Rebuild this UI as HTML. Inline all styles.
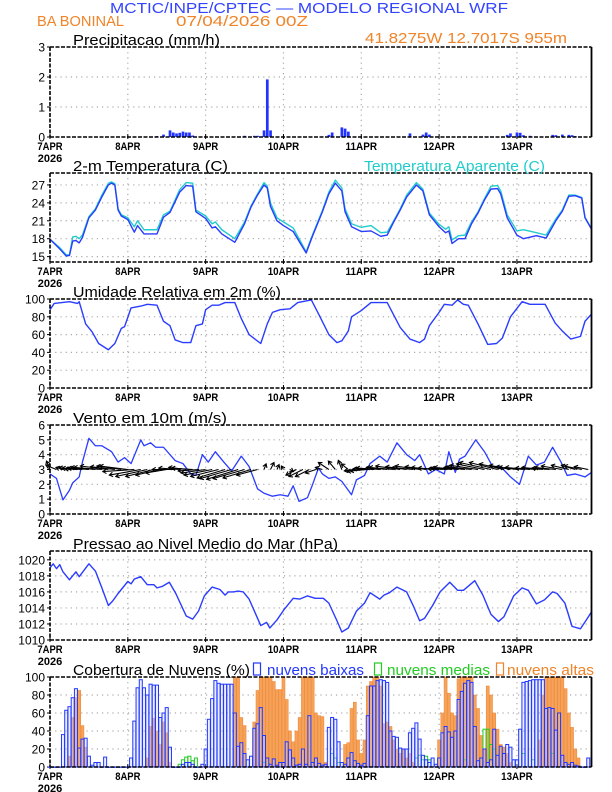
<!DOCTYPE html>
<html><head><meta charset="utf-8">
<style>
html,body{margin:0;padding:0;background:#fff;}
svg{display:block;}
text{font-family:"Liberation Sans",sans-serif;}
</style></head>
<body>
<svg id="chart" width="612" height="792" viewBox="0 0 612 792" xmlns="http://www.w3.org/2000/svg">
<rect x="0" y="0" width="612" height="792" fill="#fff"/>
<text x="110" y="13" font-size="15" fill="#3344ff" textLength="398" lengthAdjust="spacingAndGlyphs">MCTIC/INPE/CPTEC — MODELO REGIONAL WRF</text>
<text x="37" y="26" font-size="15" fill="#f08428" textLength="87" lengthAdjust="spacingAndGlyphs">BA BONINAL</text>
<text x="176" y="26" font-size="15" fill="#f08428" textLength="132" lengthAdjust="spacingAndGlyphs">07/04/2026 00Z</text>
<text x="365" y="43" font-size="15" fill="#f08428" textLength="202" lengthAdjust="spacingAndGlyphs">41.8275W 12.7017S 955m</text>
<g id="plots"></g>
</svg>
<script>
// ---------- DATA ----------
const dayLabels = ["7APR","8APR","9APR","10APR","11APR","12APR","13APR"];
const yearLabel = "2026";

const precipHours = [28,33,35,37,38,39,40,41,42,43,44,60,63,64,66,67,68,86,87,90,91,92,111,115,116,117,135,141,142,144,145,146,148,155,156,158,160,161,162];
const precipValues = [0.01,0.03,0.08,0.22,0.15,0.12,0.14,0.18,0.15,0.15,0.05,0.04,0.04,0.04,0.22,1.92,0.22,0.07,0.15,0.32,0.28,0.18,0.12,0.08,0.15,0.08,0.01,0.07,0.12,0.15,0.14,0.06,0.04,0.07,0.06,0.08,0.07,0.06,0.03];
const precipTicks = [0,1,2,3];

const tempHours = [0,3,5,6,7,8,9,10,12,14,16,18,19,20,21,22,24,26,27,29,33,35,37,40,42,44,45,48,50,51,53,57,60,62,64,66,67,68,70,72,75,78,79,81,84,86,88,90,91,93,96,99,102,104,106,108,110,113,115,117,120,122,123,124,126,128,130,132,134,136,138,139,141,144,146,150,153,156,158,160,162,164,165,167];
const tempValues = [17.9,16.3,15.1,15.2,17.6,17.7,17.3,18.2,21.5,22.8,25.0,27.0,27.3,27.0,22.8,21.8,21.2,19.1,20.2,18.8,18.8,21.6,22.4,25.8,26.9,26.8,22.5,21.4,19.8,20.0,18.8,17.4,20.5,23.3,25.3,27.0,26.5,23.4,21.0,20.2,19.2,16.5,15.6,18.5,22.5,25.5,27.3,26.0,22.5,20.0,19.2,19.3,18.4,18.6,20.8,22.8,25.0,27.0,26.0,22.0,20.0,19.0,19.3,17.2,18.0,18.0,20.5,22.3,24.5,26.3,26.4,25.5,21.5,18.6,18.0,18.5,18.1,21.0,22.6,25.1,25.2,24.8,21.5,19.6];
const appTempValues = [17.9,16.5,15.3,15.3,18.3,18.4,18.0,18.6,21.7,23.0,25.3,27.3,27.5,27.2,23.0,22.0,21.5,20.0,21.0,19.5,19.5,22.0,22.6,26.2,27.4,27.3,22.8,21.8,20.5,20.8,19.5,18.0,20.8,23.5,25.5,27.4,26.8,24.0,21.5,20.8,19.8,16.8,15.8,18.7,22.7,25.8,27.8,26.5,23.0,20.5,19.9,20.2,19.0,19.1,21.0,23.0,25.3,27.4,26.3,22.3,20.4,19.6,20.0,17.8,18.5,18.6,20.8,22.5,24.7,26.8,26.9,26.0,22.0,19.3,19.5,19.0,18.6,21.3,22.8,25.3,25.3,24.9,21.6,19.7];
const tempTicks = [15,18,21,24,27];

const rhHours = [0,1.3,6,8.5,9,11,13,15,18,20,22,23,25,28,30,33,35,37,38.6,41,43.4,45,47,48,50,52,54,57,59,61.4,65,67,68.6,71,74,76.4,80.6,83,86,88.5,90,92,93,96,99,104,108,111,114,115.5,117,120,121.6,124,125.7,127.5,129,132,135,137.7,139.5,142,145.6,148,152.7,155.8,158,160.6,163.6,165,167];
const rhValues = [88,95,97,95,97,72,63,50,43,50,67,69,90,92,94,93,75,70,54,51,51,70,72,88,93,93,96,96,78,60,50,72,85,88,89,96,99,82,60,51,53,64,80,87,96,96,68,55,51,55,70,85,94,93,99,94,93,72,49,50,56,80,97,94,94,73,64,55,58,75,83];
const rhTicks = [0,20,40,60,80,100];

const windHours = [0,2,4,6,7,9,10,12,14,16,19,21,23,25,28,29,31,32.6,35,38.6,41,43.4,45,47,48.8,51,53.6,56,59,61.4,64,66,68.6,71,73.4,75,76.8,79.4,81,82.8,84,86,88,90,93,94.5,97,98.7,101.7,104,107,110,112.5,114,116.7,119,121.6,123,125,126.3,128,131.3,134,136.5,139,142,144.8,147.5,150,152.5,155,157.6,159.5,162,165,167];
const windSpeed = [2.7,2.4,0.95,1.6,2.1,2.5,3.5,5.1,4.6,4.6,4.2,3.5,3.8,3.4,5.0,4.6,4.8,4.5,4.5,3.6,3.4,2.7,2.6,4.0,3.5,4.2,3.5,2.9,3.9,3.2,1.7,1.4,1.2,1.3,1.2,1.9,0.85,1.1,2.0,3.1,2.7,2.4,2.5,2.2,1.3,2.3,2.6,3.4,3.9,3.5,4.8,4.0,3.6,4.0,2.7,3.0,2.7,4.2,2.8,3.7,3.9,5.0,4.2,3.2,3.2,2.5,2.0,3.9,3.3,3.5,4.5,3.5,2.6,2.7,2.5,2.8];
const windTicks = [0,1,2,3,4,5,6];
// wind vectors every 2 hours (u east, v north, m/s)
const windU = [-0.5,-1.5,-1,-1.5,-2,-2.5,-3,-3.5,-4,-4,-3.5,-3.5,
 -4,-4.5,-4.5,-4.5,-4,-3.5,-3,-3,-3,-2.5,-3,-3,
 -3.5,-4,-4,-4,-4.5,-4.5,-4.5,-4,-3,0.3,0.5,0.3,
 -0.3,0.5,-1.5,-2,-2,-1.5,-1,-1.5,-1,-0.5,-1,-1.5,
 -2,-2.5,-3,-3.5,-3,-3.5,-3.5,-3,-3,-3.5,-3,-3,
 -3,-2.5,-3,-3.5,-3,-3.5,-4,-4,-4.5,-4,-3.5,-3,
 -3,-3.5,-3.5,-3,-3,-2.5,-3,-3,-2.5,-2,-2.5,-2];
const windV = [1.2,0.6,0.3,0.3,0.2,0.1,0.2,0.3,0.3,0.5,0.4,0.5,
 0.5,-0.3,-0.8,-1,-1,-0.8,-0.5,0,0.2,0.3,0.2,-0.2,
 -0.5,-0.8,-1,-1.2,-1.3,-1.4,-1.3,-1.2,-0.8,0.8,1,0.7,
 0.5,-0.3,-0.8,-1,-1,-0.5,0.3,1,1.2,1.3,0.8,-0.2,
 -0.3,-0.2,0.1,0.2,0.3,0.3,0.5,0.4,0.3,0.5,0.4,0.3,
 0.2,0.1,0.2,0.3,0.3,0.4,0.6,0.8,1,1,0.8,0.6,
 0.4,0.3,0.3,0.2,0.3,0.2,0.3,0.5,0.6,0.6,0.5,0.4];

const presHours = [0,1,2,3,4,6,8,9,12,14,16,18,19.4,21,24,25,26,28,30,32,33,34.7,36.8,38.8,42,44,45.8,47.6,50,52.4,54,55,56.6,58,59.6,61.4,65,66.8,67.8,70,72.2,75,77,79.4,81.8,84.3,86,88.5,90,92,94.5,97,98.7,101.7,103,104.7,107,110,112,114,115.5,118,120.3,123.3,125.7,127.5,131,133.5,136,138.3,140,143,145.6,147.5,150,152.5,155,156.4,158.8,161,163.6,165.4,167];
const presValues = [1019.0,1019.5,1018.9,1019.4,1018.5,1017.5,1018.5,1017.9,1019.5,1018.6,1016.5,1014.3,1014.9,1015.8,1017.3,1017.0,1017.6,1017.9,1016.9,1016.9,1016.5,1016.7,1017.2,1015.8,1013.0,1012.6,1013.6,1015.5,1016.6,1016.3,1015.6,1016.0,1016.0,1016.1,1016.0,1015.1,1011.8,1012.2,1011.5,1012.5,1013.8,1015.2,1015.1,1015.5,1015.2,1015.2,1014.6,1012.4,1011.0,1011.5,1013.6,1014.6,1015.9,1015.1,1015.6,1015.9,1016.6,1016.0,1014.3,1012.4,1012.7,1014.3,1016.0,1017.2,1016.2,1016.2,1017.4,1015.6,1013.2,1012.3,1012.9,1015.5,1016.5,1016.2,1014.5,1015.0,1016.0,1015.8,1014.6,1011.7,1011.4,1012.5,1013.5];
const presTicks = [1010,1012,1014,1016,1018,1020];

// cloud cover, hourly from hour 0
const cloudLow = [0,0,0,0,36,63,67,77,87,21,31,32,12,2,5,5,0,11,0,0,0,0,0,0,
 0,10,51,88,97,88,80,92,91,91,55,60,66,22,0,0,0,3,5,5,3,0,0,3,
 20,53,76,96,93,92,92,92,92,60,23,27,15,8,12,43,48,66,35,10,3,9,2,5,
 5,28,19,10,2,3,20,3,57,5,10,4,2,3,44,55,53,28,5,3,10,16,7,4,
 2,4,57,90,90,96,97,96,94,40,34,33,21,20,20,38,43,49,31,13,8,5,10,3,
 10,38,45,39,33,40,75,84,93,96,94,45,7,10,20,5,8,42,13,23,15,25,22,8,
 8,42,94,95,96,97,97,97,97,65,66,65,41,60,13,5,3,5,2,1,0,0,10];
const cloudHigh = [0,0,0,0,0,0,12,55,77,85,46,22,0,0,0,0,0,0,0,0,0,0,0,0,
 0,0,0,0,0,0,10,45,54,40,25,50,38,5,0,0,0,0,0,0,0,0,0,0,
 0,0,0,0,0,0,0,0,0,100,100,55,46,0,0,50,85,100,100,100,100,95,86,86,
 100,75,40,28,40,55,100,100,100,100,60,57,56,5,0,0,0,0,0,25,27,65,72,30,
 15,30,90,95,100,100,90,48,50,45,30,20,15,20,10,15,5,0,0,0,0,0,0,0,
 30,60,100,82,60,57,98,100,100,100,100,80,65,35,20,90,80,60,42,25,22,15,5,0,
 0,0,0,0,0,0,0,30,80,100,100,100,100,100,100,87,60,44,20,10,0,0,0];
const cloudMedHours = [40,41,42,43,44,45,66,87,88,89,113,114,115,116,117,128,134,135,136,137,146,149,155];
const cloudMedValues = [3,8,11,12,7,10,5,15,10,5,10,13,8,12,8,8,42,42,25,20,15,8,15];
const cloudTicks = [0,20,40,60,80,100];

// ---------- DRAWING ----------
const NS = "http://www.w3.org/2000/svg";
const root = document.getElementById("plots");
const X0 = 50, XR = 591.5, HMAX = 167;
function xs(h){ return X0 + h*(XR-X0)/HMAX; }
function mk(tag, attrs, parent){
  const e = document.createElementNS(NS, tag);
  for (const k in attrs) e.setAttribute(k, attrs[k]);
  (parent||root).appendChild(e);
  return e;
}
function panel(name, top, bottom, ymin, ymax, ticks, titleText, titleLen){
  const g = mk("g", {});
  
  
  const ys = v => bottom - (v-ymin)*(bottom-top)/(ymax-ymin);
  // grid
  for (let d=1; d<7; d++){
    const gl = mk("line",{x1:xs(d*24),x2:xs(d*24),y1:top,y2:bottom,stroke:"#aaa","stroke-width":1.2,"stroke-dasharray":"1.2,4"},g);
    
    
  }
  ticks.forEach(t=>{
    const y = ys(t);
    if (y>top+1 && y<bottom-1){
      const gl = mk("line",{x1:X0,x2:XR,y1:y,y2:y,stroke:"#aaa","stroke-width":1.2,"stroke-dasharray":"1.2,4"},g);
      
      
    }
    const tl = mk("text",{x:X0-5,y:y+4.5,"font-size":12,"text-anchor":"end",fill:"#000"},g);
    tl.textContent = String(t);
    
    
    const tk = mk("line",{x1:X0-3,x2:X0,y1:y,y2:y,stroke:"#000","stroke-width":1},g);
    
    
  });
  // x labels
  dayLabels.forEach((lab,d)=>{
    const t = mk("text",{x:xs(d*24),y:bottom+13,"font-size":11,"text-anchor":"middle",fill:"#000","font-weight":"bold",textLength:lab.length*6.3,lengthAdjust:"spacingAndGlyphs"},g);
    t.textContent = lab;
    
    
    const tk = mk("line",{x1:xs(d*24),x2:xs(d*24),y1:bottom-3,y2:bottom+2,stroke:"#000","stroke-width":1},g);
    
    
  });
  const yr = mk("text",{x:xs(0),y:bottom+25,"font-size":11,"text-anchor":"middle",fill:"#000","font-weight":"bold"},g);
  yr.textContent = yearLabel;
  
  
  const tt = mk("text",{x:73,y:top-2,"font-size":14.5,fill:"#000",textLength:titleLen,lengthAdjust:"spacingAndGlyphs"},g);
  tt.textContent = titleText;
  
  
  const plot = mk("g",{},g);
  
  
  // frame after
  const fr = mk("g",{},g);
  
  
  mk("line",{x1:X0,x2:XR,y1:top,y2:top,stroke:"#000","stroke-width":1.6,"stroke-dasharray":"4,1.5"},fr);
  mk("line",{x1:X0,x2:XR,y1:bottom,y2:bottom,stroke:"#000","stroke-width":1.6,"stroke-dasharray":"4,1.5"},fr);
  mk("line",{x1:X0,x2:X0,y1:top,y2:bottom,stroke:"#000","stroke-width":1.6,"stroke-dasharray":"4,1.5"},fr);
  mk("line",{x1:XR,x2:XR,y1:top,y2:bottom,stroke:"#000","stroke-width":1.8},fr);
  return {ys, plot, g};
}
function line(p, hours, vals, color, name, w){
  let d = "";
  hours.forEach((h,i)=>{ d += (i?"L":"M") + xs(h).toFixed(2) + "," + p.ys(vals[i]).toFixed(2); });
  const e = mk("path",{d:d,fill:"none",stroke:color,"stroke-width":w||1.4,"stroke-linejoin":"round"},p.plot);
  
  
}

// Precip
const p1 = panel("precipitation", 47, 137, 0, 3, precipTicks, "Precipitacao (mm/h)", 147);
precipHours.forEach((h,i)=>{
  const y = p1.ys(precipValues[i]);
  const b = mk("rect",{x:xs(h)-1.3,y:y,width:2.7,height:Math.max(0.5,137-y),fill:"#2233ff"},p1.plot);
  
  
});

// Temp
const p2 = panel("temperature", 173, 262, 14.1, 29.0, tempTicks, "2-m Temperatura (C)", 155);
line(p2, tempHours, appTempValues, "#22cccc", "apparent-temperature-line", 1.4);
line(p2, tempHours, tempValues, "#2a3cff", "temperature-line", 1.4);
const at = mk("text",{x:364,y:171,"font-size":14.5,fill:"#22cccc",textLength:181,lengthAdjust:"spacingAndGlyphs"},p2.g);
at.textContent = "Temperatura Aparente (C)";



// RH
const p3 = panel("humidity", 299, 388, 0, 100, rhTicks, "Umidade Relativa em 2m (%)", 208);
line(p3, rhHours, rhValues, "#2a3cff", "humidity-line", 1.4);

// Wind
const p4 = panel("wind", 425, 514, 0, 6, windTicks, "Vento em 10m (m/s)", 154);
line(p4, windHours, windSpeed, "#2a3cff", "wind-speed-line", 1.3);
const yBase = p4.ys(3);
windU.forEach((u,i)=>{
  const v = windV[i];
  const x1 = xs(i*2), y1 = yBase;
  const S = 7;
  const x2 = x1 + u*S, y2 = y1 - v*S;
  const len = Math.hypot(x2-x1, y2-y1) || 1;
  const ux = (x2-x1)/len, uy = (y2-y1)/len;
  const hx1 = x2 - ux*3.5 - uy*2.2, hy1 = y2 - uy*3.5 + ux*2.2;
  const hx2 = x2 - ux*3.5 + uy*2.2, hy2 = y2 - uy*3.5 - ux*2.2;
  const a = mk("path",{d:`M${x1},${y1}L${x2},${y2}M${hx1},${hy1}L${x2},${y2}L${hx2},${hy2}`,fill:"none",stroke:"#000","stroke-width":1.1},p4.plot);
  
  
});

// Pressure
const p5 = panel("pressure", 551, 640, 1010, 1021.1, presTicks, "Pressao ao Nivel Medio do Mar (hPa)", 265);
line(p5, presHours, presValues, "#2a3cff", "pressure-line", 1.4);

// Clouds
const p6 = panel("cloud-cover", 677, 767, 0, 100, cloudTicks, "Cobertura de Nuvens (%)", 177);
const BW = 3.0;
cloudHigh.forEach((v,h)=>{
  if (v<=0) return;
  const y = p6.ys(v);
  const b = mk("rect",{x:xs(h)-BW/2,y:y,width:BW,height:767-y,fill:"#f5a35a",stroke:"#f08a3a","stroke-width":0.6},p6.plot);
  
  
});
cloudMedHours.forEach((h,i)=>{
  const y = p6.ys(cloudMedValues[i]);
  const b = mk("rect",{x:xs(h)-BW/2,y:y,width:BW,height:767-y,fill:"none",stroke:"#22cc22","stroke-width":1},p6.plot);
  
  
});
cloudLow.forEach((v,h)=>{
  const y = p6.ys(v);
  const b = mk("rect",{x:xs(h)-BW/2,y:y,width:BW,height:Math.max(0.3,767-y),fill:"rgba(200,210,255,0.35)",stroke:"#2238ff","stroke-width":1},p6.plot);
  
  
});
const legendItems = [["nuvens baixas","#2238ff",253,267,97],["nuvens medias","#22cc22",374,387,103],["nuvens altas","#f08428",496,507,87]];
legendItems.forEach(it=>{
  const bx = mk("rect",{x:it[2]+0.5,y:663,width:7,height:12,fill:"none",stroke:it[1],"stroke-width":1.2},p6.g);
  
  
  const t = mk("text",{x:it[3],y:675,"font-size":14.5,fill:it[1],textLength:it[4],lengthAdjust:"spacingAndGlyphs"},p6.g);
  t.textContent = it[0];
  
  
});
</script>
</body></html>
